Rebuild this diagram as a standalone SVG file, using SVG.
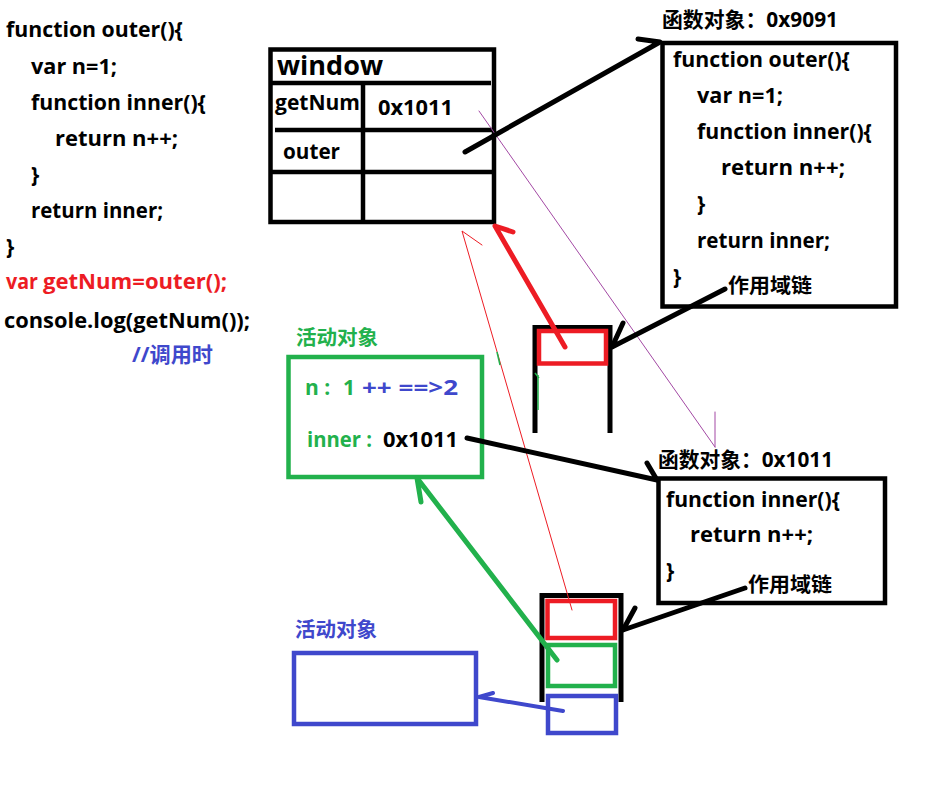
<svg xmlns="http://www.w3.org/2000/svg" width="947" height="788" viewBox="0 0 947 788">
<style>
.t{font-family:"Open Sans","Noto Sans CJK SC",sans-serif;font-weight:bold;font-size:21px;fill:#000}
.cjk{font-family:"Noto Sans CJK SC",sans-serif;font-weight:bold;font-size:20px}
.box{fill:none;stroke:#000;stroke-width:4.5}
.ln{fill:none;stroke-linecap:round;stroke-linejoin:round}
.red{fill:#ed1c24}.green{fill:#22b14c}.blue{fill:#3f48cc}
</style>
<rect width="947" height="788" fill="#fff"/>

<g id="code">
<text class="t" x="6" y="37" textLength="177" lengthAdjust="spacingAndGlyphs">function outer(){</text>
<text class="t" x="31" y="74" textLength="86" lengthAdjust="spacingAndGlyphs">var n=1;</text>
<text class="t" x="31" y="110" textLength="175" lengthAdjust="spacingAndGlyphs">function inner(){</text>
<text class="t" x="55" y="146" textLength="123" lengthAdjust="spacingAndGlyphs">return n++;</text>
<text class="t" x="31" y="182">}</text>
<text class="t" x="31" y="218" textLength="132" lengthAdjust="spacingAndGlyphs">return inner;</text>
<text class="t" x="6" y="254">}</text>
<text class="t red" x="6" y="289" textLength="32" lengthAdjust="spacingAndGlyphs">var</text>
<text class="t red" x="43" y="289" textLength="184" lengthAdjust="spacingAndGlyphs">getNum=outer();</text>
<text class="t" x="4" y="328" textLength="246" lengthAdjust="spacingAndGlyphs">console.log(getNum());</text>
<text class="t blue" x="132" y="362" textLength="81" lengthAdjust="spacingAndGlyphs">//调用时</text>
</g>

<g id="window">
<rect class="box" x="270.5" y="49.5" width="223.5" height="172.5"/>
<path class="box" d="M270 83H491M275 130H494M270 172H494M363 84V222"/>
<text class="t" x="277" y="75" style="font-size:27px" textLength="106" lengthAdjust="spacingAndGlyphs">window</text>
<text class="t" x="275" y="110" textLength="85" lengthAdjust="spacingAndGlyphs">getNum</text>
<text class="t" x="378" y="115" textLength="75" lengthAdjust="spacingAndGlyphs">0x1011</text>
<text class="t" x="283" y="159" textLength="57" lengthAdjust="spacingAndGlyphs">outer</text>
</g>

<g id="fnobj-outer">
<text class="t" x="662" y="27" textLength="176" lengthAdjust="spacingAndGlyphs">函数对象：0x9091</text>
<rect class="box" x="662.5" y="43" width="233.5" height="263.5"/>
<text class="t" x="673" y="67" textLength="177" lengthAdjust="spacingAndGlyphs">function outer(){</text>
<text class="t" x="697" y="103" textLength="86" lengthAdjust="spacingAndGlyphs">var n=1;</text>
<text class="t" x="697" y="139" textLength="175" lengthAdjust="spacingAndGlyphs">function inner(){</text>
<text class="t" x="721" y="175" textLength="124" lengthAdjust="spacingAndGlyphs">return n++;</text>
<text class="t" x="697" y="211">}</text>
<text class="t" x="697" y="248" textLength="133" lengthAdjust="spacingAndGlyphs">return inner;</text>
<text class="t" x="673" y="284">}</text>
<text class="cjk" x="728" y="293" textLength="84" lengthAdjust="spacingAndGlyphs">作用域链</text>
</g>

<g id="fnobj-inner">
<text class="t" x="658" y="467" textLength="175" lengthAdjust="spacingAndGlyphs">函数对象：0x1011</text>
<rect class="box" x="658.5" y="478.5" width="226.5" height="124.5"/>
<text class="t" x="666" y="507" textLength="174" lengthAdjust="spacingAndGlyphs">function inner(){</text>
<text class="t" x="690" y="542" textLength="123" lengthAdjust="spacingAndGlyphs">return n++;</text>
<text class="t" x="666" y="578">}</text>
<text class="cjk" x="748" y="592" textLength="84" lengthAdjust="spacingAndGlyphs">作用域链</text>
</g>

<g id="stack1">
<path class="box" style="stroke-width:5" d="M535 433V327.5H610V433"/>
<rect x="539" y="331" width="67" height="32.5" fill="none" stroke="#ed1c24" stroke-width="4.5"/>
<path d="M538 375V410M535 373L539 378" stroke="#22b14c" stroke-width="1.5" fill="none"/>
</g>

<g id="stack2">
<path class="box" style="stroke-width:5" d="M542 702V595.5H621V702"/>
<rect x="547.5" y="601" width="67.5" height="37" fill="none" stroke="#ed1c24" stroke-width="4.5"/>
<rect x="548" y="645" width="67" height="41" fill="none" stroke="#22b14c" stroke-width="4.5"/>
<rect x="548" y="696" width="68" height="37" fill="none" stroke="#3f48cc" stroke-width="4.5"/>
</g>

<g id="ao-green">
<text class="cjk green" x="296" y="345" textLength="82" lengthAdjust="spacingAndGlyphs">活动对象</text>
<rect x="288.5" y="357" width="193.5" height="120" fill="none" stroke="#22b14c" stroke-width="4.5"/>
<text class="t green" x="305" y="395">n :</text>
<text class="t green" x="343" y="395">1</text>
<text class="t blue" x="362" y="395" textLength="96" lengthAdjust="spacingAndGlyphs">++ ==&gt;2</text>
<text class="t green" x="307" y="447" textLength="65" lengthAdjust="spacingAndGlyphs">inner :</text>
<text class="t" x="383" y="447" textLength="75" lengthAdjust="spacingAndGlyphs">0x1011</text>
</g>

<g id="ao-blue">
<text class="cjk blue" x="295" y="637" textLength="82" lengthAdjust="spacingAndGlyphs">活动对象</text>
<rect x="294" y="653" width="182" height="71" fill="none" stroke="#3f48cc" stroke-width="4.5"/>
</g>

<g id="connectors">
<path class="ln" stroke="#a349a4" stroke-width="1" d="M479 111L715 447M715 412V447"/>
<path class="ln" stroke="#ed1c24" stroke-width="1" d="M572 610L462 231L482 245"/>
<path d="M497 352L500 365" stroke="#22b14c" stroke-width="1.5"/>
<path class="ln" stroke="#000" stroke-width="5" d="M465 152L660 42L638 39"/>
<path class="ln" stroke="#ed1c24" stroke-width="5" d="M565 347L495 226L513 232"/>
<path class="ln" stroke="#000" stroke-width="5" d="M725 289L612 347L623 323"/>
<path class="ln" stroke="#000" stroke-width="5" d="M467 438L657 480L647 463"/>
<path class="ln" stroke="#000" stroke-width="5" d="M745 588L623 630L635 608"/>
<path class="ln" stroke="#22b14c" stroke-width="5" d="M557 660L417 478L421 502"/>
<path class="ln" stroke="#3f48cc" stroke-width="4" d="M563 711L479 697L493 693"/>
</g>
</svg>
